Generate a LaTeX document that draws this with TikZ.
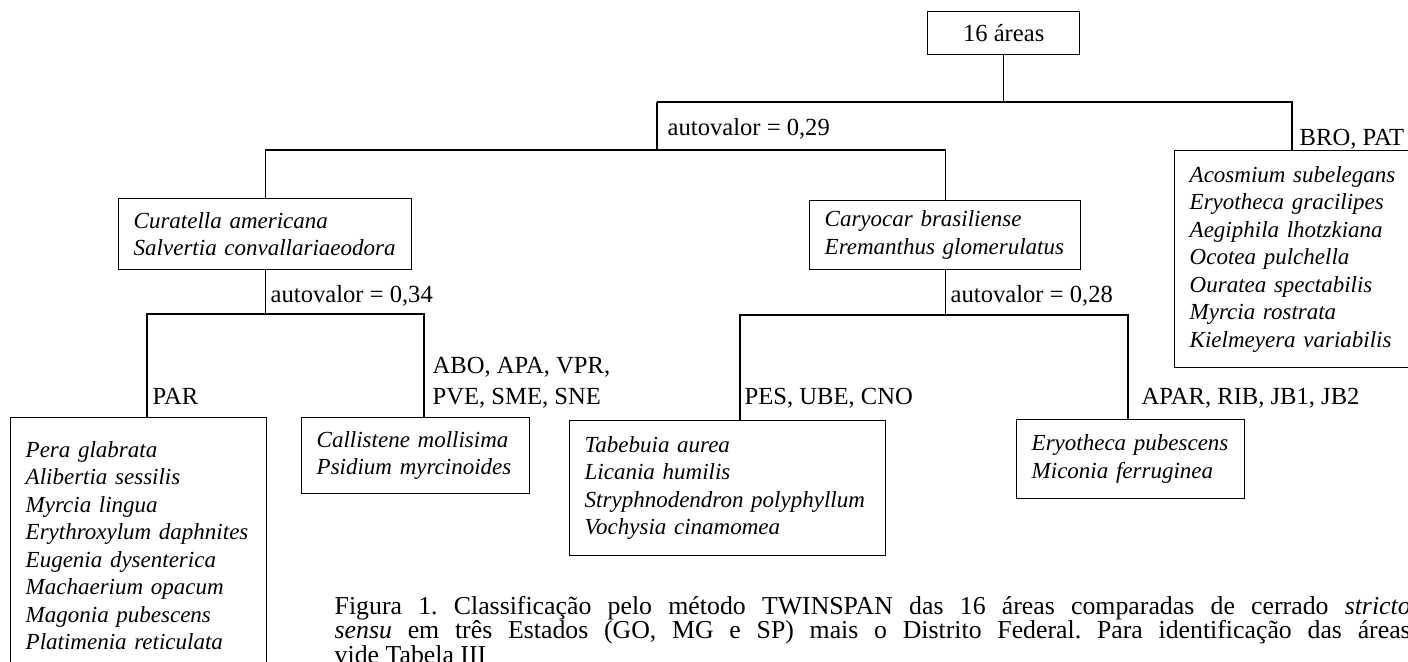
\documentclass[tikz,border=0pt]{standalone}
\usepackage{fontspec}
\setmainfont{Liberation Serif}
\newcommand\legstil{\fontsize{12.9pt}{12.25pt}\selectfont\frenchspacing
	\lineskiplimit=-20pt\relax}
\begin{document}
\begin{tikzpicture}[x=0.5pt, y=-0.5pt, line width=0.7pt,
	every node/.style={font=\fontsize{12.3pt}{15.5pt}\selectfont},
	kasten/.style={draw, align=left, anchor=north west, inner xsep=7.5pt,
		inner ysep=0pt, font=\fontsize{11.5pt}{13.75pt}\selectfont\itshape},
	etikett/.style={anchor=base west, inner sep=0pt, align=left}]
	\useasboundingbox (0,0) rectangle (1408,662);
	\clip (0,0) rectangle (1408,662);
	% Wurzel
	\node[draw, anchor=north west, inner sep=0pt, minimum width=76pt,
	minimum height=21.5pt] (root) at (927,11) {16 áreas};
	% Gruppen
	\node[kasten, minimum width=146.5pt, minimum height=35.5pt,
	text width=131.5pt] (cur) at (118,198)
	{Curatella~americana\\Salvertia~convallariaeodora};
	\node[kasten, minimum width=135.5pt, minimum height=34.5pt,
	text width=120.5pt] (car) at (809,200)
	{Caryocar~brasiliense\\Eremanthus~glomerulatus};
	\node[kasten, minimum width=123pt, minimum height=108.5pt,
	text width=108pt] (grpR) at (1174,150)
	{Acosmium~subelegans\\Eryotheca~gracilipes\\Aegiphila~lhotzkiana\\
	Ocotea~pulchella\\Ouratea~spectabilis\\Myrcia~rostrata\\
	Kielmeyera~variabilis};
	\node[kasten, minimum width=128pt, minimum height=128pt,
	text width=113pt] (par) at (10,417)
	{Pera~glabrata\\Alibertia~sessilis\\Myrcia~lingua\\
	Erythroxylum~daphnites\\Eugenia~dysenterica\\Machaerium~opacum\\
	Magonia~pubescens\\Platimenia~reticulata};
	\node[kasten, minimum width=114pt, minimum height=38pt,
	text width=99pt] (cal) at (301,417)
	{Callistene~mollisima\\Psidium~myrcinoides};
	\node[kasten, minimum width=158pt, minimum height=67.5pt,
	text width=143pt] (tab) at (569,420)
	{Tabebuia~aurea\\Licania~humilis\\Stryphnodendron~polyphyllum\\
	Vochysia~cinamomea};
	\node[kasten, minimum width=114pt, minimum height=39.5pt,
	text width=99pt] (ery) at (1016,419)
	{Eryotheca~pubescens\\Miconia~ferruginea};
	% Verzweigungen
	\coordinate (k1) at (657,102);
	\coordinate (k2) at (657,150);
	\coordinate (k3) at (1292,102);
	\coordinate (k4) at (147,314);
	\coordinate (k5) at (424,314);
	\coordinate (k6) at (740,315);
	\coordinate (k7) at (1128,315);
	\draw (root.south) -- (root.south |- k1);
	\draw (k1) -- (k3) -- (k3 |- grpR.north);
	\draw (k1) -- (k2);
	\draw (cur.north) |- (car.north |- k2) -- (car.north);
	\draw (cur.south) -- (cur.south |- k4);
	\draw (par.north -| k4) -- (k4) -- (k5) -- (cal.north -| k5);
	\draw (car.south) -- (car.south |- k6);
	\draw (tab.north -| k6) -- (k6) -- (k7) -- (ery.north -| k7);
	% Beschriftungen
	\node[etikett] (ev1) at (667,136) {autovalor = 0,29};
	\node[etikett] (ev2) at (270,303) {autovalor = 0,34};
	\node[etikett] (ev3) at (950,303) {autovalor = 0,28};
	\node[etikett] (lbro) at (1299,146) {BRO, PAT};
	\node[etikett] (lpar) at (152,405) {PAR};
	\node[etikett] (labo) at (432,405) {ABO, APA, VPR,\\PVE, SME, SNE};
	\node[etikett] (lpes) at (744,405) {PES, UBE, CNO};
	\node[etikett] (lapar) at (1141,405) {APAR, RIB, JB1, JB2};
	% Legende
	\node[anchor=base west, inner sep=0pt] (legenda) at (334,614)
	{\parbox[t]{540pt}{\legstil\noindent
	\makebox[538pt][s]{Figura 1. Classificação pelo método TWINSPAN das 16
	áreas comparadas de cerrado \textit{stricto}}\par
	\noindent\makebox[538pt][s]{\textit{sensu} em três Estados (GO, MG e SP)
	mais o Distrito Federal. Para identificação das áreas}\par
	\noindent vide Tabela III}};
\end{tikzpicture}
\end{document}
